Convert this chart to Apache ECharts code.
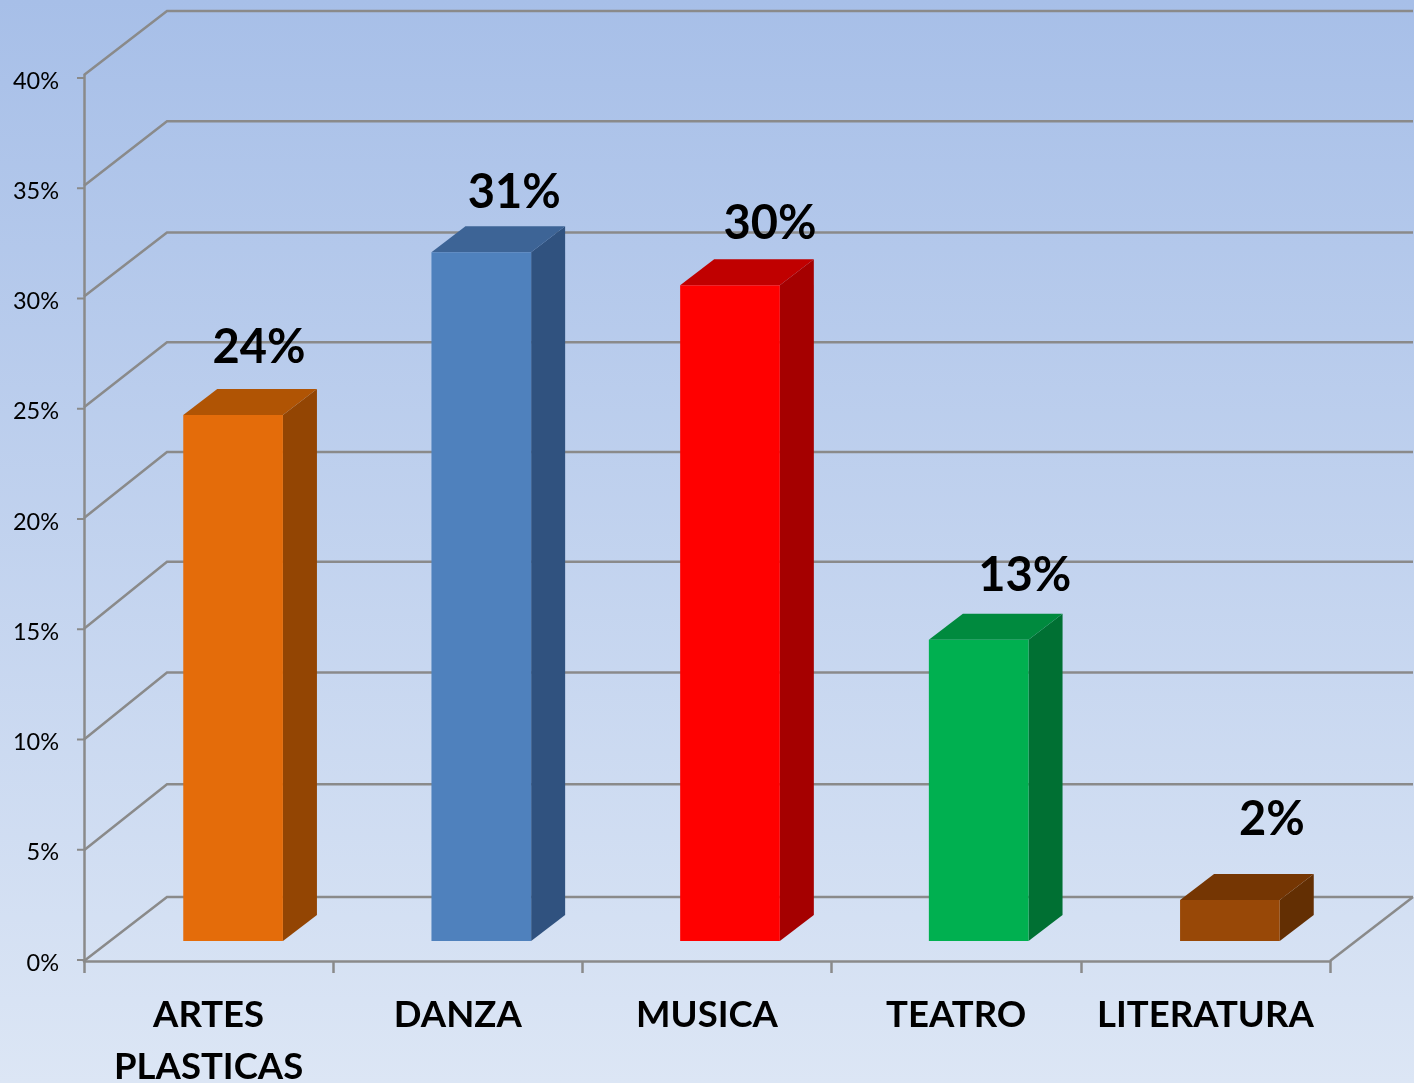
<!DOCTYPE html>
<html><head><meta charset="utf-8">
<style>html,body{margin:0;padding:0;background:#dbe5f5}#c{width:1414px;height:1083px}</style>
<script src="https://cdn.jsdelivr.net/npm/echarts@6/dist/echarts.min.js"></script>
</head><body><div id="c"></div>
<script>
const categories = ['ARTES\nPLASTICAS', 'DANZA', 'MUSICA', 'TEATRO', 'LITERATURA'];
const values = [23.75, 31.1, 29.6, 13.6, 1.85];
const valueLabels = ['24%', '31%', '30%', '13%', '2%'];
const axisTicks = [0, 5, 10, 15, 20, 25, 30, 35, 40];

const frontColors = ['#E46C0A', '#4F81BD', '#FF0000', '#00B050', '#984807'];
const topColors = ['#B05404', '#3D6496', '#C00000', '#008A3E', '#753603'];
const sideColors = ['#934503', '#30527F', '#A50000', '#007033', '#632F03'];
// hand-placed nudges, relative to the bar's slot / front top edge centre / back wall line
const barNudgeX = [0, -1, -1.5, -2, 0];
const labelNudgeX = [26, 33, 40, 46, 42];
const labelNudgeY = [-67, -59.5, -62, -64, -80];
const wallNudgeY = [0, -2, -3, -3, -2, -1, 0, -0.5, 0];

const FONT = 'Lato, "Open Sans", sans-serif';
const LINE = '#8A8A8A';
const WALL_DX = 83, WALL_DY = -64;
const BAR_DX = 34, BAR_DY = -26, BAR_SHIFT_X = 24.5, BAR_SHIFT_Y = -20, BAR_RATIO = 0.4;
const TICK_LEN = 7, TICK_SHIFT_Y = -3;

function renderWall(params, api) {
  const v = api.value(0);
  const band = api.size([1, 0])[0];
  const a = api.coord([0, v]), b = api.coord([categories.length - 1, v]);
  const l = a[0] - band / 2, r = b[0] + band / 2, y = a[1];
  const back = y + WALL_DY + wallNudgeY[params.dataIndex];
  const kids = [{
    type: 'polyline',
    shape: { points: [[l, y], [l + WALL_DX, back], [r + WALL_DX, back]] },
    style: { stroke: LINE, lineWidth: 2.5, fill: null }
  }];
  if (v === 0) kids.push({
    type: 'line',
    shape: { x1: r, y1: y, x2: r + WALL_DX, y2: back },
    style: { stroke: LINE, lineWidth: 2.5 }
  });
  return { type: 'group', children: kids };
}

function renderTick(params, api) {
  const band = api.size([1, 0])[0];
  const p = api.coord([0, api.value(0)]);
  const l = p[0] - band / 2, y = p[1] + TICK_SHIFT_Y;
  return { type: 'line', shape: { x1: l - TICK_LEN, y1: y, x2: l, y2: y }, style: { stroke: LINE, lineWidth: 2 } };
}

function renderBar(params, api) {
  const i = params.dataIndex;
  const band = api.size([1, 0])[0], w = band * BAR_RATIO;
  const t = api.coord([i, api.value(1)]), b = api.coord([i, 0]);
  const x0 = t[0] + BAR_SHIFT_X + barNudgeX[i] - w / 2, x1 = x0 + w;
  const yt = t[1] + BAR_SHIFT_Y, yb = b[1] + BAR_SHIFT_Y;
  return {
    type: 'group',
    children: [
      { type: 'polygon', shape: { points: [[x1, yt], [x1 + BAR_DX, yt + BAR_DY], [x1 + BAR_DX, yb + BAR_DY], [x1, yb]] }, style: { fill: sideColors[i] } },
      { type: 'polygon', shape: { points: [[x0, yt], [x0 + BAR_DX, yt + BAR_DY], [x1 + BAR_DX, yt + BAR_DY], [x1, yt]] }, style: { fill: topColors[i] } },
      { type: 'rect', shape: { x: x0, y: yt, width: w, height: yb - yt }, style: { fill: frontColors[i] } },
      { type: 'text', x: (x0 + x1) / 2 + labelNudgeX[i], y: yt + labelNudgeY[i],
        style: { text: valueLabels[i], fill: '#000', font: 'bold 47px ' + FONT, textAlign: 'center', textVerticalAlign: 'middle' } }
    ]
  };
}

const chart = echarts.init(document.getElementById('c'), null, { renderer: 'canvas', width: 1414, height: 1083 });
chart.setOption({
  animation: false,
  backgroundColor: { type: 'linear', x: 0, y: 0, x2: 0, y2: 1,
    colorStops: [{ offset: 0, color: '#A7BFE8' }, { offset: 1, color: '#DCE6F5' }] },
  grid: [
    { left: 84, top: 81, width: 1246, height: 882, outerBoundsMode: 'none' },
    { left: 84, top: 75, width: 1246, height: 886, outerBoundsMode: 'none' }
  ],
  xAxis: [
    { gridIndex: 0, type: 'category', data: categories, show: false },
    { gridIndex: 1, type: 'category', data: categories, boundaryGap: true,
      axisLine: { show: true, lineStyle: { color: LINE, width: 2.5 } },
      axisTick: { show: true, length: 12, alignWithLabel: false, lineStyle: { color: LINE, width: 2.5 } },
      axisLabel: { color: '#000', fontFamily: FONT, fontWeight: 'bold', fontSize: 36.5, lineHeight: 52, margin: 28, interval: 0 } }
  ],
  yAxis: [
    { gridIndex: 0, type: 'value', min: 0, max: 40, interval: 5,
      axisLine: { show: false }, splitLine: { show: false }, axisTick: { show: false },
      axisLabel: { color: '#000', fontFamily: FONT, fontSize: 23.5, margin: 25, formatter: '{value}%' } },
    { gridIndex: 1, type: 'value', min: 0, max: 40, interval: 5,
      axisLine: { show: true, lineStyle: { color: LINE, width: 2.5 } },
      axisTick: { show: false }, axisLabel: { show: false }, splitLine: { show: false } }
  ],
  series: [
    { type: 'custom', xAxisIndex: 1, yAxisIndex: 1, silent: true, z: 1, clip: false,
      data: axisTicks.map(v => [v]), encode: { x: -1, y: 0 }, renderItem: renderWall },
    { type: 'custom', xAxisIndex: 0, yAxisIndex: 0, silent: true, z: 1, clip: false,
      data: axisTicks.map(v => [v]), encode: { x: -1, y: 0 }, renderItem: renderTick },
    { type: 'custom', xAxisIndex: 1, yAxisIndex: 1, silent: true, z: 2, clip: false,
      data: categories.map((c, i) => [i, values[i]]), encode: { x: 0, y: 1 }, renderItem: renderBar }
  ]
});
</script></body></html>
